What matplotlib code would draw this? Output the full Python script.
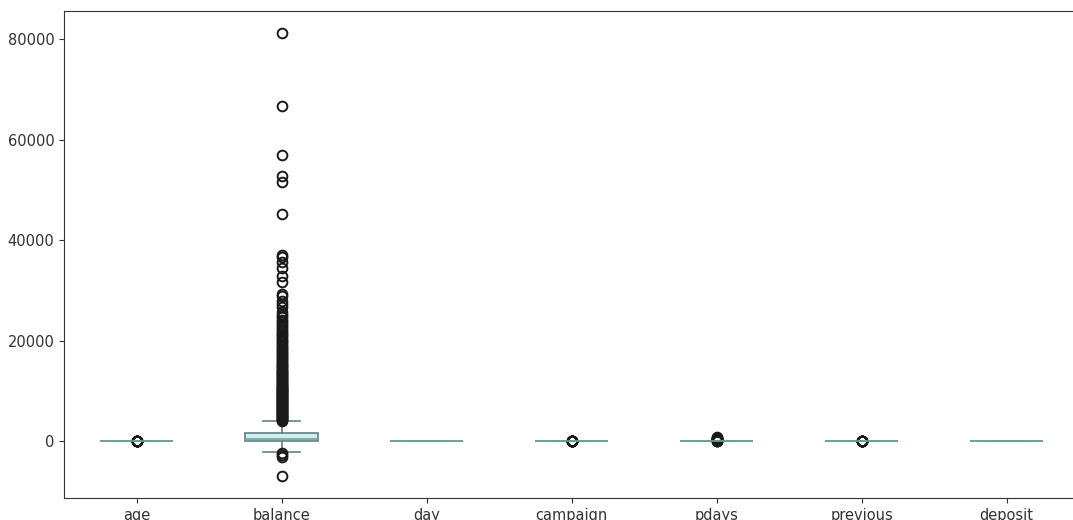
import matplotlib
matplotlib.use("Agg")
import matplotlib.pyplot as plt

columns = ["age", "balance", "day", "campaign", "pdays", "previous", "deposit"]

q1 = [32, 122, 8, 1, -1, 0, 0]
med = [39, 550, 15, 2, -1, 0, 0]
q3 = [49, 1708, 22, 3, 20.75, 1, 1]
whislo = [18, -2049, 1, 1, -1, 0, 0]
whishi = [74, 4087, 31, 6, 53, 2, 1]

fliers_age = [75, 77, 79, 80, 83, 85, 87, 90, 92, 95]
fliers_balance = [
    -6847, -3058, -2712, -2282,
    4100, 4250, 4400, 4550, 4700, 4850, 5000, 5150, 5300, 5450, 5600,
    5750, 5900, 6050, 6200, 6350, 6500, 6650, 6800, 6950, 7100, 7250,
    7400, 7550, 7700, 7850, 8000, 8150, 8300, 8450, 8600, 8750, 8900,
    9050, 9200, 9350, 9500, 9650, 9800, 9950, 10100, 10250, 10400,
    10550, 10700, 10850, 11000, 11200, 11400, 11600, 11800, 12000,
    12200, 12400, 12600, 12800, 13000, 13200, 13400, 13600, 13800,
    14000, 14250, 14500, 14750, 15000, 15250, 15500, 15750, 16000,
    16300, 16600, 16900, 17200, 17500, 17800, 18100, 18400, 18700,
    19000, 19350, 19700, 20050, 20400, 20750, 21100, 21450, 21800,
    22200, 22600, 23000, 23400, 23800, 24200, 24700, 25200, 25700,
    26650, 27400, 27980, 28970, 29300, 31760, 32950, 34410,
    35600, 36600, 37060, 45280, 51650, 52840, 56950, 66630, 81204,
]
fliers_day = []
fliers_campaign = [7, 9, 12, 15, 20, 25, 30, 33, 41, 43, 63]
fliers_pdays = [60, 100, 150, 200, 250, 300, 350, 400, 450, 500, 600, 700, 854]
fliers_previous = [3, 5, 8, 10, 15, 20, 27, 30, 40, 58]
fliers_deposit = []

fliers = [fliers_age, fliers_balance, fliers_day, fliers_campaign,
          fliers_pdays, fliers_previous, fliers_deposit]

stats = []
for i, name in enumerate(columns):
    stats.append(dict(label=name, q1=q1[i], med=med[i], q3=q3[i],
                      whislo=whislo[i], whishi=whishi[i], fliers=fliers[i]))

plt.rcParams["font.family"] = ["DejaVu Sans"]
fig = plt.figure(figsize=(10.73, 5.2), dpi=100)
ax = fig.add_axes([64 / 1073, 22 / 520, 1015 / 1073, 487 / 520])

edge = "#5f8090"
ax.bxp(stats, widths=0.5, patch_artist=True,
       boxprops=dict(facecolor="#d4eeea", edgecolor=edge, linewidth=1.2),
       whiskerprops=dict(color=edge, linewidth=1.2),
       capprops=dict(color=edge, linewidth=1.2),
       medianprops=dict(color="#6aaa90", linewidth=1.2),
       flierprops=dict(marker="o", markerfacecolor="none",
                       markeredgecolor="#1a1a1a", markersize=7,
                       markeredgewidth=1.4))

ax.set_xlim(0.5, 7.5)
ax.set_ylim(-11250, 85607)
ax.set_yticks([0, 20000, 40000, 60000, 80000])
ax.tick_params(labelsize=10.5, colors="#333333")
for s in ax.spines.values():
    s.set_color("#333333")
ax.spines["right"].set_visible(False)

fig.savefig("out.png", dpi=100)
